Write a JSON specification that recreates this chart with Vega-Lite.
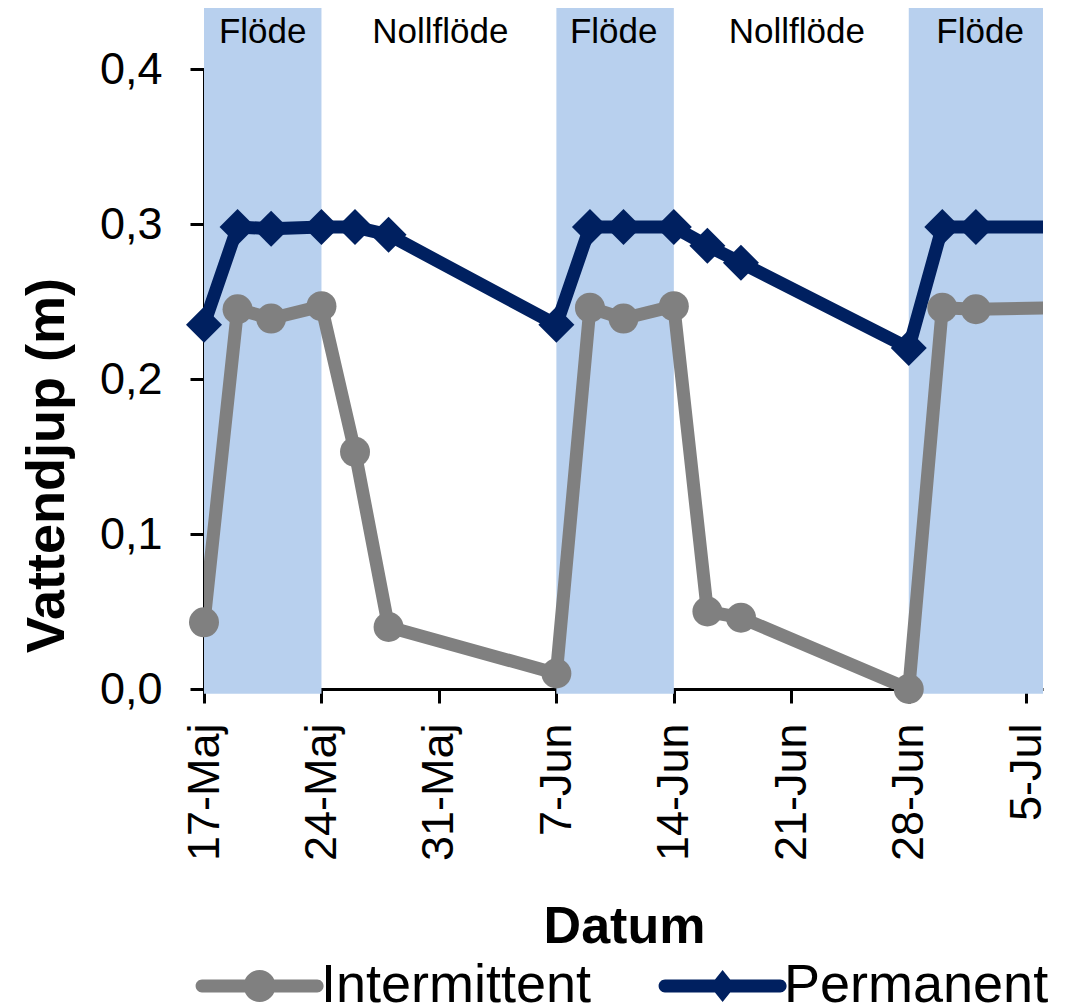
{
  "$schema": "https://vega.github.io/schema/vega-lite/v6.json",
  "width": 839,
  "height": 620,
  "autosize": {"type": "none"},
  "padding": {"left": 204, "top": 69, "right": 25, "bottom": 314},
  "background": "white",
  "config": {
    "font": "Liberation Sans",
    "view": {"stroke": null},
    "axis": {"grid": false, "tickSize": 14, "tickWidth": 3, "domainWidth": 3, "domainColor": "black", "tickColor": "black", "labelColor": "black", "titleColor": "black", "labelFont": "Liberation Sans", "titleFont": "Liberation Sans"}
  },
  "data": {
    "values": [
      {"date": "2021-05-17", "serie": "Intermittent", "depth": 0.043},
      {"date": "2021-05-19", "serie": "Intermittent", "depth": 0.245},
      {"date": "2021-05-21", "serie": "Intermittent", "depth": 0.239},
      {"date": "2021-05-24", "serie": "Intermittent", "depth": 0.247},
      {"date": "2021-05-26", "serie": "Intermittent", "depth": 0.153},
      {"date": "2021-05-28", "serie": "Intermittent", "depth": 0.040},
      {"date": "2021-06-07", "serie": "Intermittent", "depth": 0.010},
      {"date": "2021-06-09", "serie": "Intermittent", "depth": 0.246},
      {"date": "2021-06-11", "serie": "Intermittent", "depth": 0.239},
      {"date": "2021-06-14", "serie": "Intermittent", "depth": 0.247},
      {"date": "2021-06-16", "serie": "Intermittent", "depth": 0.050},
      {"date": "2021-06-18", "serie": "Intermittent", "depth": 0.046},
      {"date": "2021-06-28", "serie": "Intermittent", "depth": 0.000},
      {"date": "2021-06-30", "serie": "Intermittent", "depth": 0.246},
      {"date": "2021-07-02", "serie": "Intermittent", "depth": 0.245},
      {"date": "2021-07-07", "serie": "Intermittent", "depth": 0.246},
      {"date": "2021-05-17", "serie": "Permanent", "depth": 0.235},
      {"date": "2021-05-19", "serie": "Permanent", "depth": 0.298},
      {"date": "2021-05-21", "serie": "Permanent", "depth": 0.297},
      {"date": "2021-05-24", "serie": "Permanent", "depth": 0.298},
      {"date": "2021-05-26", "serie": "Permanent", "depth": 0.298},
      {"date": "2021-05-28", "serie": "Permanent", "depth": 0.293},
      {"date": "2021-06-07", "serie": "Permanent", "depth": 0.235},
      {"date": "2021-06-09", "serie": "Permanent", "depth": 0.298},
      {"date": "2021-06-11", "serie": "Permanent", "depth": 0.298},
      {"date": "2021-06-14", "serie": "Permanent", "depth": 0.298},
      {"date": "2021-06-16", "serie": "Permanent", "depth": 0.286},
      {"date": "2021-06-18", "serie": "Permanent", "depth": 0.275},
      {"date": "2021-06-28", "serie": "Permanent", "depth": 0.220},
      {"date": "2021-06-30", "serie": "Permanent", "depth": 0.298},
      {"date": "2021-07-02", "serie": "Permanent", "depth": 0.298},
      {"date": "2021-07-07", "serie": "Permanent", "depth": 0.298}
    ],
    "format": {"parse": {"date": "date"}}
  },
  "layer": [
    {
      "data": {
        "values": [
          {"start": "2021-05-17", "end": "2021-05-24"},
          {"start": "2021-06-07", "end": "2021-06-14"},
          {"start": "2021-06-28", "end": "2021-07-06"}
        ]
      },
      "mark": {"type": "rect", "color": "#b8d0ee", "clip": false},
      "encoding": {
        "x": {
          "field": "start",
          "type": "temporal",
          "scale": {"type": "utc", "domain": [{"year": 2021, "month": 5, "date": 17, "utc": true}, {"year": 2021, "month": 7, "date": 6, "utc": true}]},
          "axis": {
            "title": "Datum",
            "values": [
              {"year": 2021, "month": 5, "date": 17, "utc": true},
              {"year": 2021, "month": 5, "date": 24, "utc": true},
              {"year": 2021, "month": 5, "date": 31, "utc": true},
              {"year": 2021, "month": 6, "date": 7, "utc": true},
              {"year": 2021, "month": 6, "date": 14, "utc": true},
              {"year": 2021, "month": 6, "date": 21, "utc": true},
              {"year": 2021, "month": 6, "date": 28, "utc": true},
              {"year": 2021, "month": 7, "date": 5, "utc": true}
            ],
            "labelExpr": "utcdate(datum.value) + '-' + (utcmonth(datum.value) == 4 ? 'Maj' : utcmonth(datum.value) == 5 ? 'Jun' : 'Jul')",
            "labelAngle": 270,
            "labelAlign": "right",
            "labelBaseline": "middle",
            "labelFontSize": 45,
            "labelPadding": 20,
            "labelFlush": false,
            "labelOverlap": false,
            "titleFontSize": 52,
            "titleFontWeight": "bold",
            "titleX": 420,
            "titleY": 253,
            "titleAlign": "center",
            "titleBaseline": "alphabetic",
            "encode": {"ticks": {"update": {"y": {"value": -13}, "y2": {"value": 14}}}}
          }
        },
        "x2": {"field": "end"},
        "y": {
          "datum": 0.4394,
          "type": "quantitative",
          "scale": {"domain": [0, 0.4], "nice": false, "zero": false},
          "axis": {
            "title": "Vattendjup (m)",
            "values": [0, 0.1, 0.2, 0.3, 0.4],
            "labelExpr": "replace(format(datum.value, '.1f'), '.', ',')",
            "labelFontSize": 45,
            "labelPadding": 28,
            "labelFlush": false,
            "titleFontSize": 54,
            "titleFontWeight": "bold",
            "titleAngle": 270,
            "titleX": -141,
            "titleY": 396,
            "titleAlign": "center",
            "titleBaseline": "alphabetic",
            "encode": {"ticks": {"update": {"x2": {"value": 14}}}}
          }
        },
        "y2": {"datum": -0.003}
      }
    },
    {
      "data": {
        "values": [
          {"label": "Flöde", "pos": "2021-05-20T12:00:00Z"},
          {"label": "Nollflöde", "pos": "2021-05-31T02:00:00Z"},
          {"label": "Flöde", "pos": "2021-06-10T10:00:00Z"},
          {"label": "Nollflöde", "pos": "2021-06-21T08:00:00Z"},
          {"label": "Flöde", "pos": "2021-07-02T06:00:00Z"}
        ]
      },
      "mark": {"type": "text", "fontSize": 35, "color": "black", "align": "center", "baseline": "middle", "clip": false},
      "encoding": {
        "x": {"field": "pos", "type": "temporal"},
        "y": {"datum": 0.424, "type": "quantitative"},
        "text": {"field": "label"}
      }
    },
    {
      "mark": {"type": "line", "strokeWidth": 13, "clip": true, "strokeJoin": "round"},
      "encoding": {
        "x": {"field": "date", "type": "temporal"},
        "y": {"field": "depth", "type": "quantitative"},
        "color": {
          "field": "serie",
          "type": "nominal",
          "scale": {"domain": ["Intermittent", "Permanent"], "range": ["#808080", "#002060"]},
          "legend": {
            "orient": "none",
            "legendX": -13,
            "legendY": 890,
            "direction": "horizontal",
            "title": null,
            "padding": 0,
            "labelFontSize": 54,
            "labelFont": "Liberation Sans",
            "labelColor": "black",
            "labelLimit": 0,
            "symbolSize": 1024,
            "labelOffset": 76,
            "columnPadding": 62,
            "symbolStrokeWidth": 0,
            "encode": {
              "symbols": {
                "update": {
                  "shape": {"signal": "datum.value === 'Intermittent' ? 'M-1,-0.4 L6.2,-0.4 A0.4,0.4 0 0,1 6.2,0.4 L-1,0.4 A0.4,0.4 0 0,1 -1,-0.4 Z M1.6,0 A1,1 0 1,1 3.6,0 A1,1 0 1,1 1.6,0 Z' : 'M-1,-0.4 L6.2,-0.4 A0.4,0.4 0 0,1 6.2,0.4 L-1,0.4 A0.4,0.4 0 0,1 -1,-0.4 Z M2.6,-1 L3.4,0 L2.6,1 L1.8,0 Z'"},
                  "fill": {"signal": "datum.value === 'Intermittent' ? '#808080' : '#002060'"},
                  "stroke": {"value": "transparent"},
                  "strokeWidth": {"value": 0},
                  "opacity": {"value": 1}
                }
              }
            }
          }
        }
      }
    },
    {
      "transform": [{"filter": "datum.serie === 'Intermittent' && time(datum.date) < utc(2021, 6, 7)"}],
      "mark": {"type": "point", "shape": "circle", "filled": true, "size": 900, "opacity": 1, "strokeWidth": 0},
      "encoding": {
        "x": {"field": "date", "type": "temporal"},
        "y": {"field": "depth", "type": "quantitative"},
        "color": {"field": "serie", "type": "nominal"}
      }
    },
    {
      "transform": [{"filter": "datum.serie === 'Permanent' && time(datum.date) < utc(2021, 6, 7)"}],
      "mark": {"type": "point", "shape": "diamond", "filled": true, "size": 1296, "opacity": 1, "strokeWidth": 0},
      "encoding": {
        "x": {"field": "date", "type": "temporal"},
        "y": {"field": "depth", "type": "quantitative"},
        "color": {"field": "serie", "type": "nominal"}
      }
    }
  ]
}
